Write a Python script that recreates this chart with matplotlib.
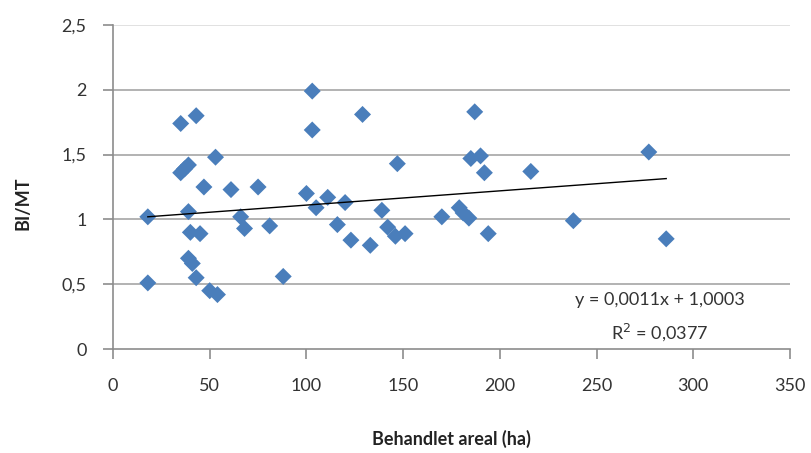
import matplotlib
matplotlib.use("Agg")
import matplotlib.pyplot as plt
import numpy as np

plt.rcParams['font.family'] = ['Lato', 'DejaVu Sans']

areal = [18, 18, 35, 43, 35, 37, 39, 53, 47, 61, 75, 39, 40, 45, 39, 41, 43, 50, 54,
         66, 68, 81, 88, 103, 103, 100, 105, 111, 120, 116, 123, 129, 133, 139, 142,
         146, 151, 147, 170, 179, 181, 184, 187, 185, 190, 192, 194, 216, 238, 277, 286]
bimt = [1.02, 0.51, 1.74, 1.80, 1.36, 1.39, 1.42, 1.48, 1.25, 1.23, 1.25, 1.06, 0.90, 0.89,
        0.70, 0.66, 0.55, 0.45, 0.42, 1.02, 0.93, 0.95, 0.56, 1.99, 1.69, 1.20, 1.09, 1.17,
        1.13, 0.96, 0.84, 1.81, 0.80, 1.07, 0.94, 0.87, 0.89, 1.43, 1.02, 1.09, 1.05, 1.01,
        1.83, 1.47, 1.49, 1.36, 0.89, 1.37, 0.99, 1.52, 0.85]
slope, intercept = 0.0011, 1.0003
eq_text = "y = 0,0011x + 1,0003"
r2_text = "R$^2$ = 0,0377"
xticks = [0, 50, 100, 150, 200, 250, 300, 350]
yticks = [0, 0.5, 1, 1.5, 2, 2.5]
ytick_labels = ["0", "0,5", "1", "1,5", "2", "2,5"]

W, H = 811, 453
fig = plt.figure(figsize=(W/100, H/100), dpi=100)
ax = fig.add_axes([113/W, 1-349/H, (790-113)/W, (349-25)/H])

for yv in yticks[1:]:
    ax.axhline(yv, color='#dcdcdc' if yv == 2.5 else '#a6a6a6', lw=1.2, zorder=0)

ax.scatter(areal, bimt, marker='D', s=75, color='#4a7ebb', edgecolors='none', zorder=3)

xs = np.array([min(areal), max(areal)])
ax.plot(xs, slope*xs + intercept, color='black', lw=1.0, zorder=4)

ax.set_xlim(0, 350)
ax.set_ylim(0, 2.5)
ax.set_xticks(xticks)
ax.set_xticklabels([str(v) for v in xticks])
ax.set_yticks(yticks)
ax.set_yticklabels(ytick_labels)

for s in ['top', 'right']:
    ax.spines[s].set_visible(False)
for s in ['left', 'bottom']:
    ax.spines[s].set_color('#8c8c8c')
    ax.spines[s].set_linewidth(1.2)
ax.tick_params(axis='both', direction='out', length=7, width=1.2, color='#8c8c8c',
               labelsize=13, labelcolor='#333333')
ax.tick_params(axis='x', pad=14)
ax.tick_params(axis='y', pad=12)

ax.set_xlabel("Behandlet areal (ha)", fontsize=13, fontweight='bold', color='#222222')
ax.set_ylabel("BI/MT", fontsize=13, fontweight='bold', color='#222222')
ax.xaxis.set_label_coords(0.5, -0.25)
ax.yaxis.set_label_coords(-0.12, 0.45)

fig.text(660/W, 1-300/H, eq_text, fontsize=13, color='#333333', ha='center', va='center')
fig.text(660/W, 1-332/H, r2_text, fontsize=13, color='#333333', ha='center', va='center')

fig.savefig("out.png", dpi=100)
